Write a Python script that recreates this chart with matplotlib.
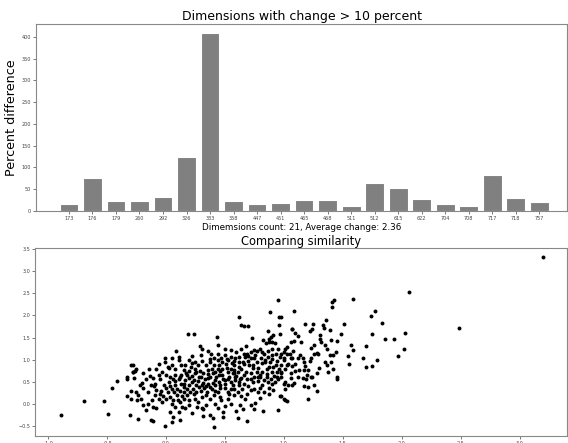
import matplotlib
matplotlib.use("Agg")
import matplotlib.pyplot as plt
import numpy as np


# dimensions whose change exceeds 10 percent
dimensions = ["173", "176", "179", "260", "292", "326", "333", "358", "447", "451", "465",
              "468", "511", "512", "615", "622", "704", "708", "717", "718", "757"]
percent_diff = [15, 76, 22, 23, 33, 125, 408, 22, 16, 18, 25,
                26, 11, 64, 53, 28, 15, 12, 82, 29, 20]
avg_change = 2.36

# similarity scatter, (x, y)
similarity_pairs = [
    (-0.886, -0.256), (-0.693, 0.068), (-0.518, 0.06), (-0.485, -0.226), (-0.452, 0.362),
    (-0.41, 0.52), (-0.33, 0.61), (-0.33, 0.57), (-0.294, 0.875), (-0.277, 0.724),
    (-0.26, 0.754), (-0.266, 0.58), (-0.327, 0.173), (-0.294, 0.287), (-0.29, 0.12),
    (-0.305, -0.256), (-0.244, 0.098), (-0.238, -0.347),
    (0.956, 2.34), (0.886, 2.08), (0.964, 1.96), (0.62, 1.96), (0.964, 1.79), (0.643, 1.79),
    (0.665, 1.76), (0.698, 1.76), (0.188, 1.59), (0.244, 1.57), (0.438, 1.52), (0.97, 1.59),
    (0.914, 1.55), (1.075, 1.70), (0.864, 1.64), (0.892, 1.51), (0.88, 1.46), (0.734, 1.49),
    (0.825, 1.45), (0.443, 1.33), (0.288, 1.31), (0.31, 1.24), (0.09, 1.19), (0.36, 1.19),
    (0.388, 1.14), (0.22, 1.08), (0.116, 1.06), (0.116, 1.0), (-0.006, 1.04), (-0.006, 0.95),
    (0.05, 1.03), (0.055, 0.87), (0.028, 0.81), (-0.06, 0.9), (-0.083, 0.78), (-0.14, 0.8),
    (-0.19, 0.69), (-0.2, 0.48), (-0.25, 0.78), (-0.28, 0.87), (-0.28, 0.72), (-0.13, 0.63),
    (-0.105, 0.59), (-0.09, 0.46), (-0.17, 0.56), (-0.12, 0.42), (-0.044, 0.56), (-0.017, 0.44),
    (0.0, 0.36), (0.03, 0.5), (0.055, 0.35), (0.08, 0.44), (0.06, 0.56), (0.11, 0.57),
    (0.13, 0.46), (0.155, 0.38), (0.17, 0.71), (0.2, 0.74), (0.22, 0.63), (0.25, 0.69),
    (0.29, 0.75), (0.32, 0.71), (0.355, 0.76), (0.39, 0.8), (0.41, 0.89), (0.44, 0.99),
    (0.45, 0.87), (0.415, 0.72), (0.476, 0.8), (0.51, 0.9), (0.526, 0.72), (0.554, 0.8),
    (0.58, 0.87), (0.576, 0.69), (0.61, 0.72), (0.64, 0.8), (0.654, 0.95), (0.67, 1.06),
    (0.69, 1.12), (0.72, 1.18), (0.75, 1.21), (0.776, 1.19), (0.803, 1.25), (0.82, 1.18),
    (0.853, 1.37), (0.873, 1.4), (0.9, 1.39), (0.928, 1.37), (0.956, 1.24), (1.0, 1.18),
    (1.025, 1.28), (1.05, 1.12), (1.07, 1.03), (1.04, 0.91), (1.01, 0.78), (0.98, 0.69),
    (0.94, 0.72), (0.914, 0.84), (0.886, 0.95), (0.845, 0.94), (0.81, 1.03), (0.776, 0.95),
    (0.75, 1.03), (0.72, 1.04), (0.706, 0.87), (0.742, 0.81), (0.776, 0.72), (0.803, 0.61),
    (0.83, 0.54), (0.864, 0.5), (0.892, 0.57), (0.928, 0.5), (0.956, 0.56), (1.0, 0.46),
    (1.04, 0.42), (0.97, 0.18), (1.003, 0.105), (0.956, -0.14), (0.826, -0.15), (0.75, -0.12),
    (0.72, -0.03), (0.687, -0.39), (0.615, -0.32), (0.6, -0.15), (0.654, -0.12), (0.63, -0.03),
    (0.67, 0.12), (0.69, 0.23), (0.72, 0.31), (0.753, 0.35), (0.78, 0.26), (0.803, 0.36),
    (0.836, 0.27), (0.873, 0.36), (0.91, 0.31), (0.554, 0.35), (0.57, 0.44), (0.59, 0.54),
    (0.623, 0.5), (0.526, 0.56), (0.5, 0.46), (0.465, 0.36), (0.443, 0.27), (0.41, 0.2),
    (0.377, 0.12), (0.35, 0.27), (0.327, 0.36), (0.305, 0.44), (0.277, 0.51), (0.255, 0.42),
    (0.235, 0.33), (0.208, 0.27), (0.183, 0.2), (0.155, 0.12), (0.125, 0.045), (0.097, 0.2),
    (0.07, 0.27), (0.033, 0.16), (0.0, 0.12), (-0.033, 0.045), (-0.06, 0.12), (-0.094, 0.2),
    (-0.116, 0.083), (-0.15, 0.0), (-0.19, -0.03), (-0.166, -0.14), (-0.21, 0.12), (-0.235, 0.2),
    (-0.255, 0.27), (-0.11, -0.07), (-0.078, -0.1), (-0.125, -0.37), (-0.105, -0.39),
    (-0.006, -0.505), (0.055, -0.41), (0.125, -0.37), (0.06, -0.29), (0.04, -0.18), (0.11, -0.18),
    (0.22, -0.2), (0.32, -0.26), (0.374, -0.24), (0.4, -0.32), (0.41, -0.53), (0.485, -0.29),
    (0.49, -0.18), (0.443, -0.09), (0.415, 0.0), (0.47, 0.08), (0.526, 0.12), (0.554, 0.0),
    (0.58, 0.2), (0.61, 0.27), (0.65, 0.35), (0.277, 0.045), (0.25, 0.12), (0.305, 0.16),
    (0.346, -0.03), (0.31, -0.1), (0.27, -0.07), (0.194, -0.03), (0.166, -0.09), (0.14, -0.07),
    (0.083, -0.07), (0.055, 0.0), (0.105, 0.083), (0.16, 0.27), (0.194, 0.42), (0.22, 0.5),
    (0.166, 0.54), (0.133, 0.65), (0.083, 0.66), (0.04, 0.61), (0.0, 0.65), (-0.028, 0.72),
    (-0.055, 0.66), (-0.083, 0.31), (-0.05, 0.23), (-0.15, 0.27), (-0.19, 0.36), (-0.22, 0.44),
    (0.38, 0.61), (0.415, 0.54), (0.45, 0.65), (0.485, 0.57), (0.33, 0.56), (0.36, 0.46),
    (0.39, 0.33), (0.42, 0.42), (0.45, 0.5), (0.526, 0.27), (0.54, 0.61), (0.57, 0.69),
    (0.59, 0.61), (0.63, 0.57), (0.66, 0.65), (0.69, 0.57), (0.72, 0.69), (0.753, 0.61),
    (0.78, 0.51), (0.815, 0.72), (0.858, 0.8), (0.9, 0.72), (0.936, 0.87), (0.975, 0.87),
    (1.003, 0.99), (0.97, 1.06), (0.936, 1.14), (0.9, 1.1), (0.864, 1.06), (0.83, 1.12),
    (0.864, 1.19), (0.9, 1.25), (0.277, 0.87), (0.25, 0.95), (0.31, 0.97), (0.346, 0.87),
    (0.374, 0.95), (0.41, 1.04), (0.47, 1.04), (0.5, 1.1), (0.53, 0.99), (0.554, 1.06),
    (0.587, 1.03), (0.62, 0.95), (0.6, 1.18), (0.64, 1.25), (0.68, 1.31), (0.554, 1.21),
    (0.5, 1.25), (0.166, 0.87), (0.194, 0.99), (0.155, 0.76), (0.133, 0.87), (0.25, 0.8),
    (0.216, 0.84),
    (3.195, 3.31), (2.06, 2.53), (2.49, 1.72), (1.586, 2.37), (1.41, 2.31), (1.43, 2.35),
    (1.41, 2.19), (1.773, 2.1), (1.74, 1.98), (1.837, 1.83), (1.51, 1.81), (2.03, 1.61),
    (1.75, 1.57), (1.49, 1.59), (1.856, 1.46), (1.934, 1.46), (1.57, 1.33), (1.70, 1.31),
    (1.59, 1.21), (1.545, 1.09), (1.675, 1.03), (1.968, 1.09), (2.018, 1.24), (1.795, 1.0),
    (1.55, 0.9), (1.70, 0.83), (1.75, 0.85), (1.45, 0.61), (1.45, 0.57), (0.98, 1.96),
    (1.09, 2.1), (1.18, 1.8), (1.25, 1.8), (1.24, 1.69), (1.22, 1.64), (1.33, 1.78),
    (1.36, 1.9), (1.34, 1.72), (1.39, 1.68), (1.07, 1.7), (1.10, 1.61), (1.12, 1.53),
    (1.06, 1.4), (1.09, 1.43), (1.145, 1.39), (1.31, 1.55), (1.31, 1.46), (1.32, 1.39),
    (1.35, 1.34), (1.4, 1.44), (1.45, 1.42), (1.23, 1.27), (1.26, 1.34), (1.28, 1.16),
    (1.26, 1.13), (1.29, 1.12), (1.23, 1.04), (1.37, 1.24), (1.39, 1.1), (1.42, 1.1),
    (1.44, 1.18), (1.35, 0.95), (1.40, 0.95), (1.37, 0.89), (1.42, 0.78), (1.38, 0.72),
    (1.30, 0.81), (1.28, 0.69), (1.24, 0.61), (1.21, 0.76), (1.17, 0.76), (1.13, 0.76),
    (1.10, 0.74), (1.07, 0.86), (1.03, 0.87), (1.06, 1.03), (1.03, 1.14), (1.01, 1.25),
    (1.0, 1.03), (1.16, 1.03), (1.17, 0.94), (1.12, 1.04), (1.2, 0.65), (1.19, 0.56),
    (1.23, 0.61), (1.16, 0.59), (1.06, 0.59), (1.09, 0.48), (1.01, 0.5), (1.07, 0.42),
    (1.17, 0.41), (1.21, 0.39), (1.26, 0.42), (1.28, 0.29), (1.21, 0.12), (1.01, 0.35),
    (0.98, 0.18), (1.01, 0.1), (1.03, 0.06), (0.98, 0.72), (0.98, 0.61),
    # dense core
    (0.12, 0.3), (0.18, 0.35), (0.24, 0.55), (0.28, 0.62), (0.3, 0.3), (0.34, 0.4),
    (0.36, 0.68), (0.4, 0.48), (0.43, 0.6), (0.46, 0.74), (0.48, 0.66), (0.5, 0.55),
    (0.52, 0.82), (0.55, 0.5), (0.56, 0.92), (0.58, 0.76), (0.6, 0.64), (0.62, 0.84),
    (0.64, 0.58), (0.66, 0.9), (0.68, 0.72), (0.7, 0.98), (0.72, 0.56), (0.74, 0.88),
    (0.76, 1.1), (0.78, 0.82), (0.8, 0.66), (0.82, 0.92), (0.84, 1.0), (0.86, 0.6),
    (0.88, 0.84), (0.9, 1.02), (0.92, 0.64), (0.94, 0.96), (0.96, 0.8), (0.98, 1.12),
    (0.7, 1.08), (0.66, 1.14), (0.62, 1.06), (0.58, 0.96), (0.52, 1.02), (0.48, 0.94),
    (0.44, 0.8), (0.4, 0.7), (0.36, 0.58), (0.32, 0.48), (0.28, 0.38), (0.24, 0.22),
    (0.2, 0.58), (0.16, 0.46), (0.12, 0.62), (0.08, 0.52), (0.04, 0.4), (0.02, 0.28),
    (0.06, 0.1), (0.1, 0.34), (0.14, 0.18), (0.2, 0.1), (0.26, 0.26), (0.3, 0.62),
    (0.34, 0.2), (0.38, 0.38), (0.42, 0.3), (0.46, 0.44), (0.5, 0.36), (0.54, 0.22),
    (0.58, 0.34), (0.62, 0.42), (0.66, 0.46), (0.7, 0.4), (0.74, 0.5), (0.78, 0.62),
    (0.82, 0.44), (0.86, 0.68), (0.9, 0.46), (0.94, 0.62), (1.06, 0.7), (1.1, 0.9),
    (1.14, 1.1), (1.18, 0.86), (1.22, 0.96), (1.12, 0.62), (1.08, 1.2), (0.44, 1.12),
    (0.38, 1.02), (0.3, 1.1), (0.26, 0.72), (0.22, 0.92), (0.18, 0.66), (0.08, 0.78),
    (0.02, 0.84), (-0.04, 0.3), (-0.1, 0.4), (-0.02, 0.18), (0.32, -0.12), (0.46, 0.16),
    (0.5, -0.04), (0.64, 0.18), (0.8, 0.14), (0.76, 0.02), (0.88, 0.22),
]


def plot_bars(ax):
    positions = np.arange(len(dimensions))
    ax.bar(positions, percent_diff, width=0.8, color="#808080", edgecolor="white", linewidth=0.8)
    ax.set_xticks(positions)
    ax.set_xticklabels(dimensions)
    ax.set_xlim(-1.41, 21.2)
    ax.set_ylim(0, 430)
    ax.set_yticks(np.arange(0, 401, 50))
    ax.set_title("Dimensions with change > 10 percent", fontsize=9, pad=3)
    ax.set_ylabel("Percent difference", fontsize=9.2, labelpad=2.5)
    ax.set_xlabel(f"Dimemsions count: {len(dimensions)}, Average change: {avg_change}",
                  fontsize=6.3, labelpad=1.5)


def plot_similarity(ax):
    points = np.array(similarity_pairs)
    ax.scatter(points[:, 0], points[:, 1], s=8, color="black", linewidths=0)
    ax.set_xticks(np.arange(-1.0, 3.01, 0.5))
    ax.set_yticks(np.arange(-0.5, 3.51, 0.5))
    ax.set_xlim(-1.105, 3.405)
    ax.set_ylim(-0.72, 3.52)
    ax.set_title("Comparing similarity", fontsize=8.3, pad=2)


def main():
    fig = plt.figure(figsize=(5.68, 4.43), dpi=100)
    ax_bar = fig.add_axes([0.063, 0.524, 0.936, 0.422])
    ax_sim = fig.add_axes([0.062, 0.016, 0.937, 0.424])

    plot_bars(ax_bar)
    plot_similarity(ax_sim)

    for ax in (ax_bar, ax_sim):
        ax.tick_params(labelsize=3.5, length=2, width=0.5, pad=1.5, colors="#444444")
        for spine in ax.spines.values():
            spine.set_color("#888888")
            spine.set_linewidth(0.8)

    fig.savefig("out.png", dpi=100)
    plt.close(fig)


if __name__ == "__main__":
    main()
